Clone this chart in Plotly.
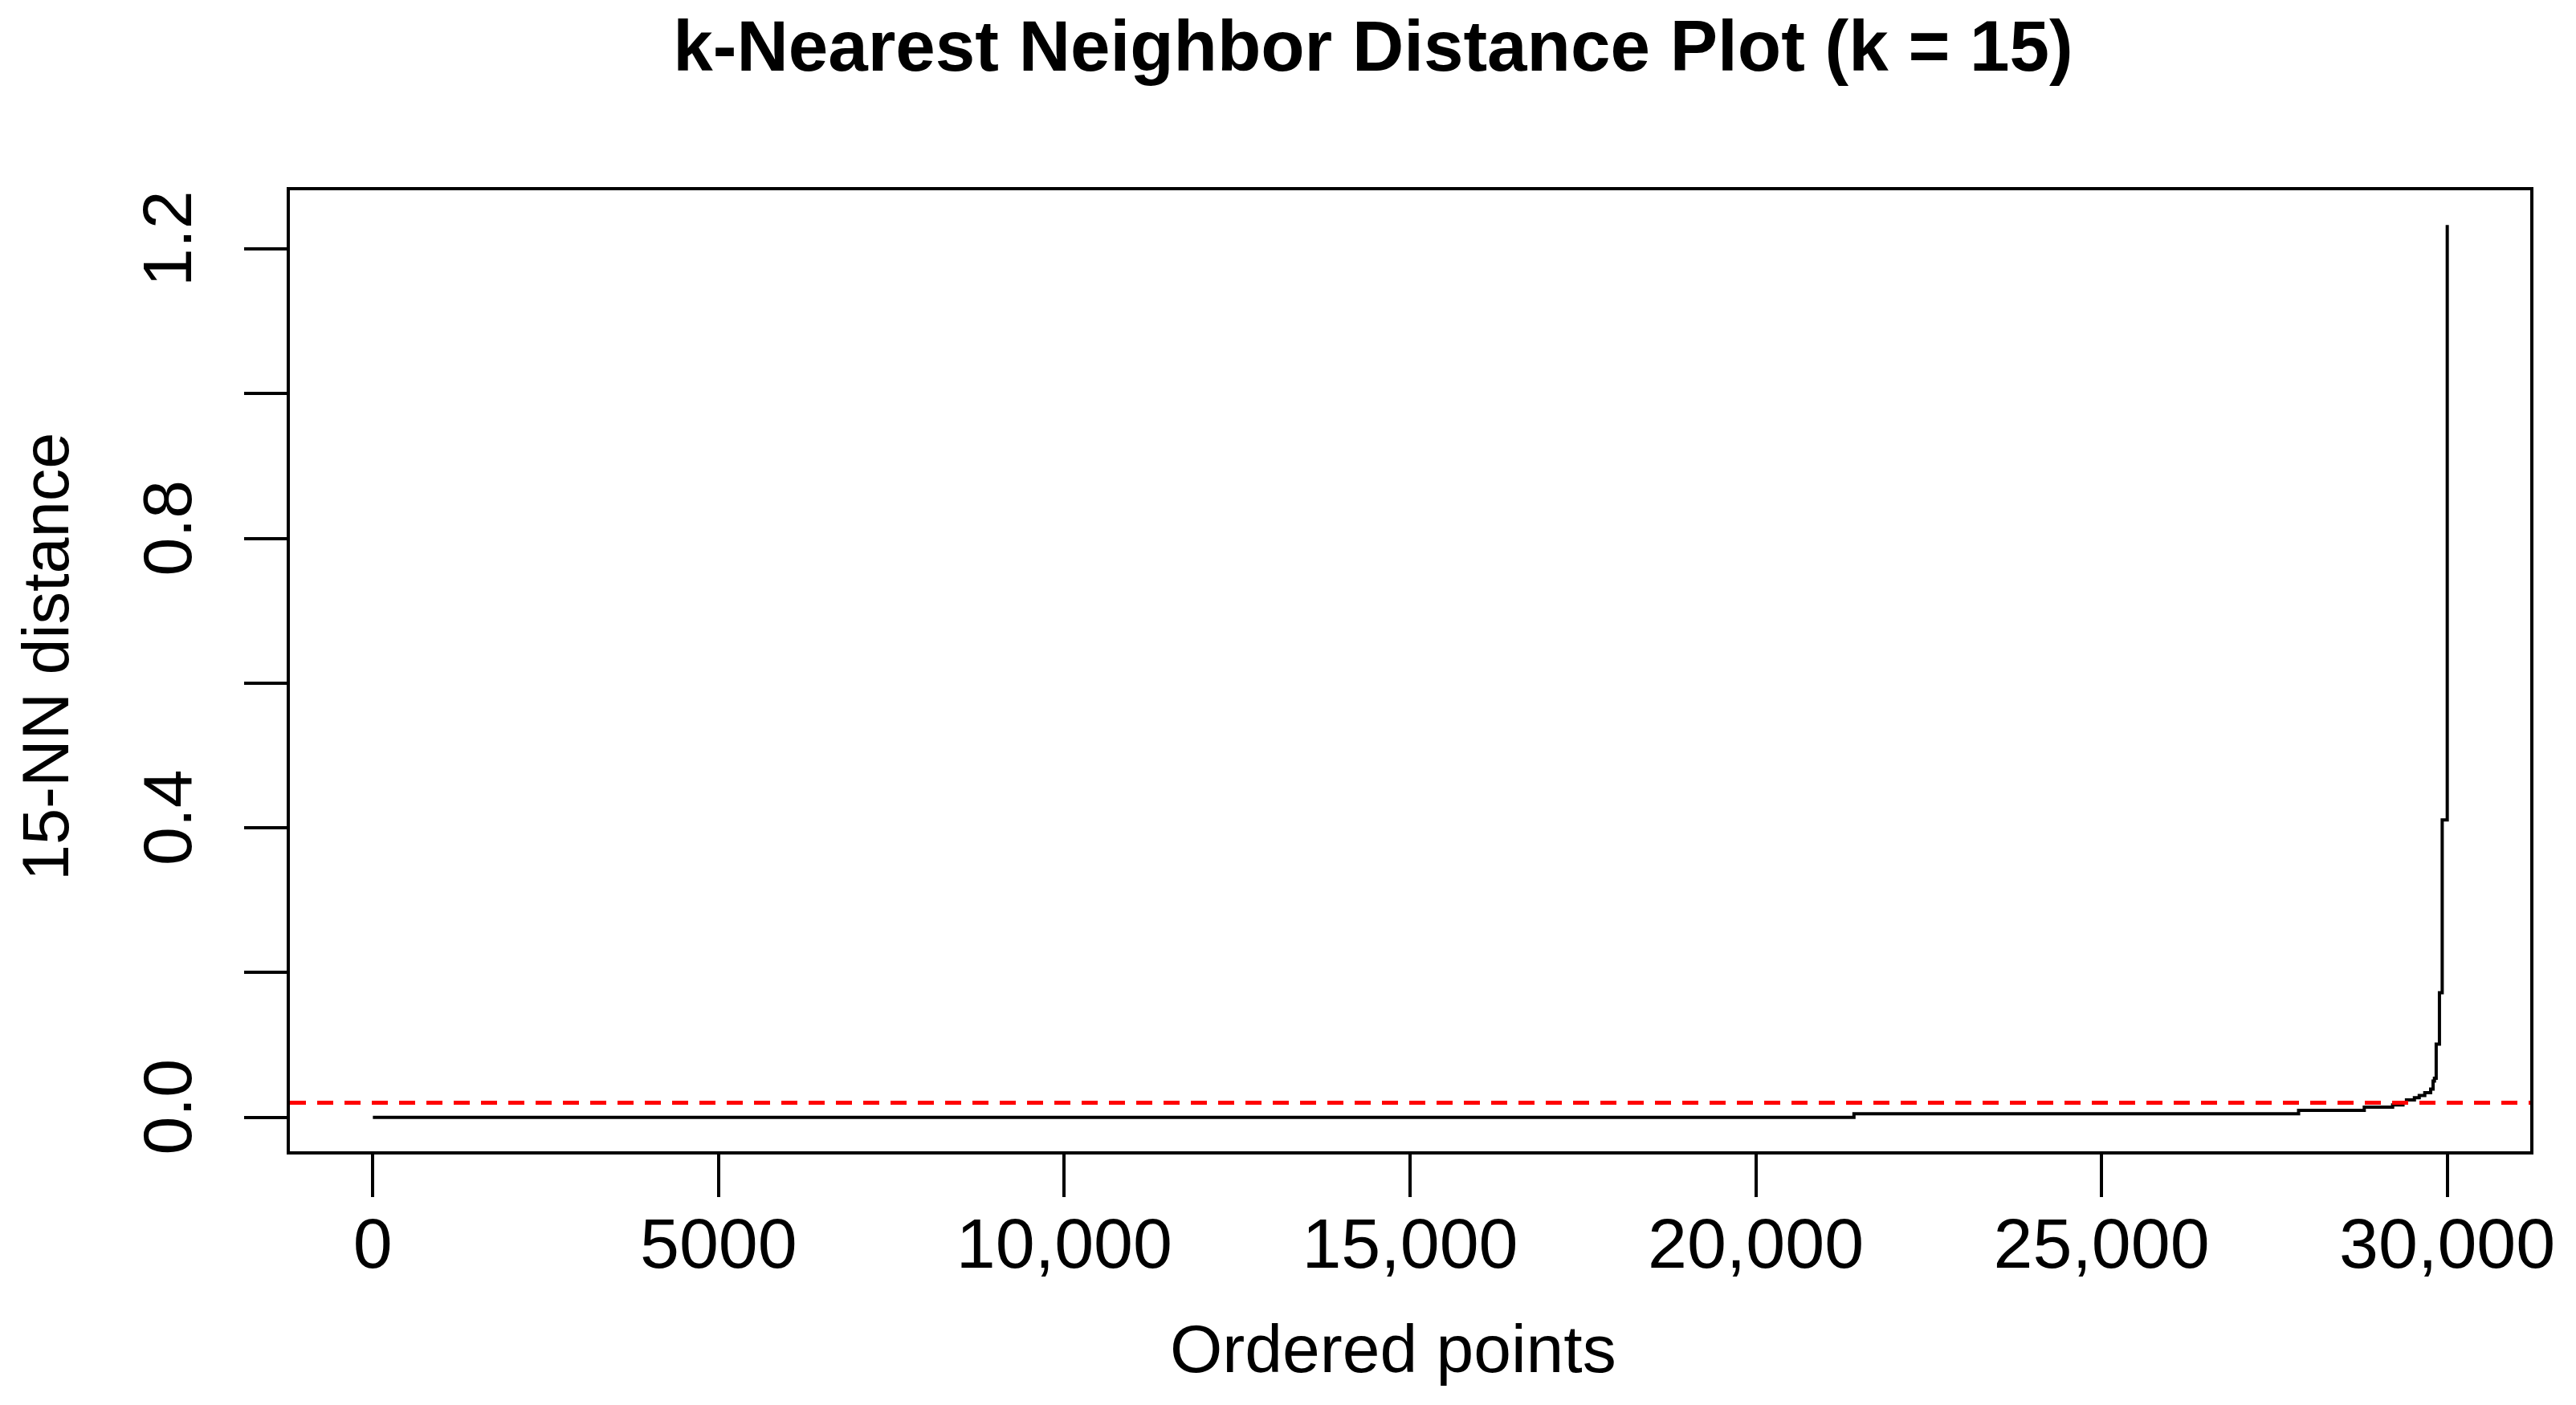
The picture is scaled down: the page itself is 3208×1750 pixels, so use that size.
import plotly.graph_objects as go

# sorted 15-NN distances (start index, distance)
point_idx = [1, 21420, 27850, 28800, 29210, 29360, 29410, 29525, 29595,
             29675, 29760, 29795, 29815, 29840, 29887, 29927, 30000]
knn_dist = [0.0, 0.0048, 0.0095, 0.014, 0.017, 0.020, 0.024, 0.027, 0.030,
            0.034, 0.039, 0.050, 0.054, 0.101, 0.172, 0.411, 1.233]
eps = 0.02

x_ticks = [0, 5000, 10000, 15000, 20000, 25000, 30000]
x_tick_labels = ["0", "5000", "10,000", "15,000", "20,000", "25,000", "30,000"]
y_ticks = [0.0, 0.2, 0.4, 0.6, 0.8, 1.0, 1.2]
y_tick_labels = ["0.0", "", "0.4", "", "0.8", "", "1.2"]

W, H = 3208, 1750
ML, MR, MT, MB = 361, 57, 237, 316
plot_w = W - ML - MR
plot_h = H - MT - MB

fig = go.Figure()

fig.add_trace(go.Scatter(
    x=point_idx,
    y=knn_dist,
    mode="lines",
    line=dict(color="black", width=4, shape="hv"),
    hoverinfo="x+y",
))

# eps reference line across the whole panel
fig.add_shape(type="line", xref="paper", x0=0, x1=1, yref="y", y0=eps, y1=eps,
              line=dict(color="#ff0000", width=5, dash="20px,14px"))

axis_common = dict(
    showline=True, mirror=True, linecolor="black", linewidth=4,
    ticks="outside", ticklen=53, tickwidth=4, tickcolor="black",
    showgrid=False, zeroline=False,
)

fig.update_xaxes(
    range=[-1199, 31200],
    tickvals=x_ticks, ticktext=x_tick_labels,
    tickfont=dict(family="Liberation Sans, Arial", size=88, color="black"),
    ticklabelstandoff=-18,
    **axis_common,
)
fig.update_yaxes(
    range=[-0.047, 1.281],
    tickvals=y_ticks, ticktext=y_tick_labels,
    tickangle=-90,
    tickfont=dict(family="Liberation Sans, Arial", size=86, color="black"),
    ticklabelstandoff=32,
    **axis_common,
)

fig.add_annotation(
    text="Ordered points", showarrow=False,
    xref="paper", yref="paper",
    x=(1735 - ML) / plot_w, y=(H - MB - 1680) / plot_h,
    xanchor="center", yanchor="middle",
    font=dict(family="Liberation Sans, Arial", size=84, color="black"),
)
fig.add_annotation(
    text="15-NN distance", showarrow=False, textangle=-90,
    xref="paper", yref="paper",
    x=(57 - ML) / plot_w, y=(H - MB - 818) / plot_h,
    xanchor="center", yanchor="middle",
    font=dict(family="Liberation Sans, Arial", size=81, color="black"),
)

fig.update_layout(
    width=W, height=H,
    margin=dict(l=ML, r=MR, t=MT, b=MB),
    title=dict(
        text="<b>k-Nearest Neighbor Distance Plot (k = 15)</b>",
        x=1710 / W, xref="container", xanchor="center",
        y=1 - 57 / H, yref="container", yanchor="middle",
        font=dict(family="Liberation Sans, Arial", size=89, color="black"),
    ),
    plot_bgcolor="white",
    paper_bgcolor="white",
    showlegend=False,
)

fig.write_html("out.html", config={"displayModeBar": False},
               post_script="document.body.style.margin='0';")
